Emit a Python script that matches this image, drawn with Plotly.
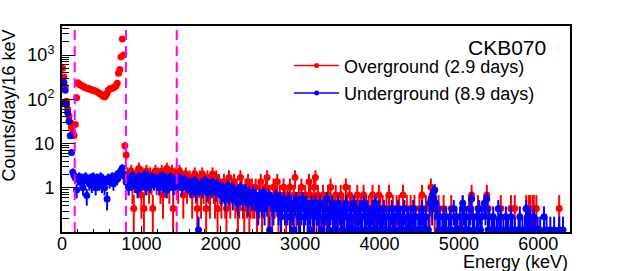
import numpy as np
import plotly.graph_objects as go

BIN_KEV = 16
DAYS_OVER = 2.9
DAYS_UNDER = 8.9
label_over = "Overground (2.9 days)"
label_under = "Underground (8.9 days)"
marker_lines_kev = [160, 805, 1445]

# ---- Overground counts per 16 keV bin (bin 0 starts at 0 keV) ----
over_0_50 = [1450, 928, 551, 261, 174, 122, 87, 67, 52, 44, 78, 313, 682, 632, 615, 595, 568,
             551, 528, 516, 508, 496, 487, 473, 464, 452, 441, 432, 412, 394, 380, 363, 342,
             328, 354, 400, 464, 493, 508, 516, 528, 551, 580, 667, 1117, 1363, 2654, 6670,
             2900, 26, 16]
over_51_75 = [6, 4, 5, 7, 3, 1, 5, 6, 4, 8, 5, 2, 6, 1, 4, 7, 5, 3, 6, 4, 1, 5, 7, 4, 6]
over_76_100 = [5, 3, 7, 2, 6, 4, 8, 5, 3, 6, 7, 1, 4, 6, 5, 3, 7, 6, 4, 2, 5, 6, 3, 4, 5]
over_101_125 = [4, 2, 5, 6, 3, 1, 4, 5, 2, 6, 3, 4, 1, 5, 3, 2, 4, 6, 3, 2, 5, 1, 4, 3, 2]
over_126_150 = [3, 4, 2, 1, 3, 5, 2, 3, 0, 4, 2, 3, 1, 2, 5, 3, 2, 1, 3, 2, 4, 1, 2, 3, 2]
over_151_175 = [2, 3, 1, 0, 2, 4, 1, 2, 0, 3, 5, 1, 2, 0, 1, 3, 2, 0, 4, 1, 2, 1, 0, 3, 2]
over_176_200 = [1, 2, 0, 3, 1, 0, 2, 5, 1, 0, 2, 1, 3, 0, 1, 2, 0, 1, 4, 2, 0, 1, 3, 5, 1]
over_201_250 = [2, 1, 1, 0, 2, 1, 0, 1, 2, 1, 3, 0, 1, 1, 2, 0, 1, 0, 2, 1, 1, 0, 3, 1, 0,
                2, 1, 0, 1, 1, 0, 2, 1, 0, 1, 0, 2, 1, 1, 0, 1, 0, 1, 2, 0, 1, 1, 0, 2, 1]
over_251_300 = [0, 1, 0, 0, 1, 0, 2, 0, 0, 1, 0, 0, 1, 0, 1, 0, 0, 2, 0, 0, 1, 0, 0, 1, 0,
                0, 1, 0, 0, 0, 1, 0, 2, 0, 0, 1, 0, 0, 1, 3, 2, 0, 1, 0, 0, 1, 0, 0, 0, 1]
over_301_350 = [0, 0, 0, 0, 0, 1, 0, 0, 0, 0, 0, 0, 0, 0, 1, 0, 0, 0, 0, 1, 0, 2, 0, 0, 0,
                0, 1, 0, 0, 0, 0, 0, 0, 2, 1, 0, 0, 0, 0, 0, 0, 0, 0, 0, 1, 0, 0, 0, 0, 0]
over_351_395 = [0, 0, 1, 0, 0, 1, 0, 0, 0, 0, 0, 0, 0, 0, 1, 0, 1, 1, 0, 1, 1, 0, 1, 0, 0,
                0, 0, 0, 0, 0, 0, 0, 0, 0, 0, 0, 0, 0, 0, 0, 1, 0, 0, 0, 0]

# ---- Underground counts per 16 keV bin ----
under_0_48 = [756, 2136, 1424, 676, 445, 285, 134, 56, 20,
              17, 15, 8, 14, 16, 12, 15, 9, 13, 16, 6, 14, 11, 15, 10, 16, 13, 9, 15, 14,
              11, 16, 10, 14, 9, 13, 5, 15, 12, 14, 16, 11, 13, 17, 14, 19, 17, 22, 25, 18]
under_49_73 = [16, 12, 14, 9, 15, 11, 17, 13, 10, 14, 8, 16, 12, 15, 11, 13, 18, 9, 14, 12,
               10, 16, 13, 11, 15]
under_74_98 = [12, 14, 9, 13, 17, 10, 12, 15, 8, 13, 11, 16, 12, 9, 14, 12, 10, 13, 15, 11,
               9, 12, 14, 10, 11]
under_99_123 = [10, 12, 8, 11, 9, 13, 7, 10, 1, 9, 11, 8, 10, 13, 9, 7, 11, 10, 8, 12, 9, 10,
                7, 11, 9]
under_124_150 = [8, 6, 9, 7, 5, 8, 10, 6, 7, 9, 5, 8, 6, 7, 4, 8, 9, 6, 5, 7, 8, 6, 4, 7, 6,
                 5, 7]
under_151_175 = [5, 6, 4, 3, 6, 5, 4, 7, 3, 5, 4, 6, 1, 5, 4, 3, 5, 6, 4, 3, 5, 2, 4, 5, 3]
under_176_200 = [4, 3, 5, 2, 4, 3, 1, 4, 5, 3, 2, 4, 3, 5, 2, 3, 4, 2, 3, 1, 4, 3, 2, 4, 3]
under_201_250 = [3, 2, 4, 1, 3, 2, 3, 5, 2, 1, 3, 4, 2, 3, 1, 2, 4, 3, 2, 1, 3, 2, 4, 2, 1,
                 2, 3, 1, 4, 2, 3, 1, 2, 3, 2, 1, 4, 2, 1, 3, 2, 2, 1, 3, 2, 4, 1, 2, 3, 1]
under_251_300 = [2, 1, 3, 1, 2, 0, 2, 1, 3, 2, 1, 2, 0, 3, 1, 2, 1, 2, 3, 1, 0, 2, 1, 2, 1,
                 3, 1, 2, 0, 1, 2, 1, 3, 2, 1, 2, 0, 1, 4, 5, 3, 7, 8, 4, 2, 1, 2, 0, 1, 2]
under_301_350 = [1, 2, 0, 1, 2, 1, 0, 3, 1, 2, 1, 0, 2, 1, 4, 3, 1, 2, 0, 1, 3, 5, 2, 1, 0,
                 2, 1, 3, 1, 2, 0, 4, 3, 5, 1, 2, 0, 1, 2, 1, 0, 1, 3, 1, 2, 0, 1, 0, 2, 1]
under_351_395 = [1, 0, 2, 1, 0, 1, 0, 0, 1, 2, 0, 1, 0, 1, 3, 2, 1, 2, 1, 0, 2, 1, 0, 1, 0,
                 1, 0, 0, 2, 0, 1, 0, 0, 1, 0, 0, 1, 0, 0, 0, 1, 0, 0, 1, 0]

over_counts = np.array(over_0_50 + over_51_75 + over_76_100 + over_101_125 + over_126_150 +
                       over_151_175 + over_176_200 + over_201_250 + over_251_300 +
                       over_301_350 + over_351_395, dtype=float)
under_counts = np.array(under_0_48 + under_49_73 + under_74_98 + under_99_123 + under_124_150 +
                        under_151_175 + under_176_200 + under_201_250 + under_251_300 +
                        under_301_350 + under_351_395, dtype=float)
assert len(over_counts) == 396, len(over_counts)
assert len(under_counts) == 396, len(under_counts)


def hist_points(counts, days):
    centers = BIN_KEV * np.arange(len(counts)) + BIN_KEV / 2
    keep = counts > 0
    rate = counts[keep] / days
    err = np.sqrt(counts[keep]) / days
    err_lo = np.where(err >= rate * 0.999, rate * 0.999, err)
    return centers[keep], rate, err, err_lo


FONT = "Liberation Sans, Arial, Helvetica, sans-serif"
fig = go.Figure()
for counts, days, color in [(over_counts, DAYS_OVER, "#ff0000"),
                            (under_counts, DAYS_UNDER, "#0000ff")]:
    x, y, e, elo = hist_points(counts, days)
    fig.add_trace(go.Scatter(
        x=x, y=y, mode="markers", showlegend=False,
        marker=dict(symbol="circle", size=7, color=color, line=dict(width=0)),
        error_y=dict(type="data", array=e, arrayminus=elo, symmetric=False,
                     color=color, thickness=2, width=0),
    ))

for name, color, grp in [(label_over, "#ff0000", "a"), (label_under, "#0000ff", "b")]:
    fig.add_trace(go.Scatter(
        x=[None], y=[None], mode="lines+markers", name=name, legendgroup=grp,
        line=dict(color=color, width=1.5), marker=dict(size=5, color=color),
    ))

for e in marker_lines_kev:
    fig.add_shape(type="line", x0=e, x1=e, yref="paper", y0=0, y1=1,
                  line=dict(color="#ff00ff", width=2, dash="10px,6px"))

minor_y = [k * 10.0 ** p for p in range(-1, 4) for k in range(2, 10) if 0.1 < k * 10.0 ** p < 4500]

fig.update_layout(
    width=634, height=271,
    margin=dict(l=62, r=64, t=26, b=39, autoexpand=False),
    paper_bgcolor="white", plot_bgcolor="white",
    font=dict(family=FONT, size=18, color="black"),
    showlegend=True,
    legend=dict(x=0.447, y=0.896, xanchor="left", yanchor="top",
                bgcolor="rgba(0,0,0,0)", borderwidth=0,
                font=dict(family=FONT, size=18), itemwidth=45, tracegroupgap=1),
    xaxis=dict(range=[0, 6400], tick0=0, dtick=1000, ticks="inside", ticklen=6,
               tickcolor="black", tickwidth=1, showline=True, linecolor="black",
               linewidth=2, mirror=True, showgrid=False, zeroline=False,
               automargin=False, tickfont=dict(size=18), ticklabelstandoff=-6,
               minor=dict(dtick=200, ticks="inside", ticklen=3, tickcolor="black",
                          showgrid=False)),
    yaxis=dict(type="log", range=[-0.995, 3.655], tickmode="array",
               tickvals=[1, 10, 100, 1000],
               ticktext=["1", "10", "10<sup>2</sup>", "10<sup>3</sup>"],
               ticks="inside", ticklen=14, tickcolor="black", tickwidth=1,
               showline=True, linecolor="black", linewidth=2, mirror=True,
               showgrid=False, zeroline=False, tickfont=dict(size=18),
               automargin=False, ticklabelstandoff=2,
               minor=dict(tickmode="array", tickvals=minor_y, ticks="inside", ticklen=7,
                          tickcolor="black", showgrid=False)),
    annotations=[
        dict(text="CKB070", xref="paper", yref="paper", x=0.957, y=0.898,
             xanchor="right", yanchor="middle", showarrow=False,
             font=dict(family=FONT, size=21)),
        dict(text="Energy (keV)", xref="paper", yref="paper", x=1.0, y=-0.145,
             xanchor="right", yanchor="middle", showarrow=False,
             font=dict(family=FONT, size=18)),
        dict(text="Counts/day/16 keV", xref="paper", yref="paper", x=-0.105, y=0.612,
             xanchor="center", yanchor="middle", textangle=-90, showarrow=False,
             font=dict(family=FONT, size=18)),
    ],
)

fig.write_html("out.html", config={"displayModeBar": False},
               post_script="document.body.style.margin='0px';")
